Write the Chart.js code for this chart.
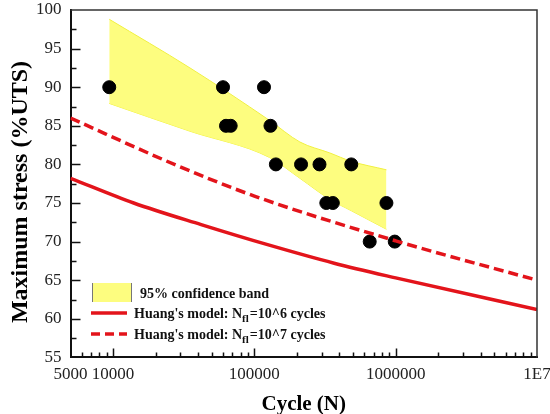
<!DOCTYPE html>
<html>
<head>
<meta charset="utf-8">
<script src="https://cdn.jsdelivr.net/npm/chart.js@4.4.1/dist/chart.umd.min.js"></script>
<style>
    html, body { margin: 0; padding: 0; background: #fff; }
    #wrap { width: 550px; height: 414px; }
</style>
</head>
<body>
<div id="wrap"><canvas id="sn"></canvas></div>
<script>
// Fatigue test results (cycles to failure vs. max stress in %UTS)
const testCycles = [9400, 60000, 63000, 68000, 117000, 130000, 142000, 214000, 289000, 485000, 323000, 359000, 860000, 655000, 985000];
const testStress = [90, 90, 85, 85, 90, 85, 80, 80, 80, 80, 75, 75, 75, 70, 70];

// 95% confidence band edges
const bandCycles = [9400, 35000, 128000, 210000, 340000, 485000, 860000];
const bandUpper = [98.8, 92.5, 85.7, 82.9, 81.5, 80.4, 79.3];
const bandLower = [87.9, 84.3, 80.9, 78.2, 75.5, 74.0, 71.6];

// Huang's model curves
const model6Cycles = [5000, 14000, 42000, 124000, 367000, 1000000, 10000000];
const model6Stress = [78.2, 75.0, 72.2, 69.6, 67.2, 65.3, 61.2];
const model7Cycles = [5000, 28000, 100000, 1000000, 10000000];
const model7Stress = [86.0, 79.9, 75.9, 70.1, 65.0];

// axis ticks
const xTickValues = [5000, 10000, 100000, 1000000, 10000000];
const xTickLabels = ['5000', '10000', '100000', '1000000', '1E7'];

const serif = '"Liberation Serif", "Times New Roman", serif';
const red = '#e3141b';
const bandFill = 'rgba(253, 253, 120, 0.95)';

const pairs = (xs, ys) => xs.map((x, i) => ({ x: x, y: ys[i] }));

// inward ticks on the bottom/left axes, plain frame on top/right
const frameTicks = {
    id: 'frameTicks',
    afterDraw(chart) {
        const { ctx, chartArea: a, scales } = chart;
        const xs = scales.x, ys = scales.y;
        ctx.save();
        ctx.strokeStyle = '#111';
        ctx.lineWidth = 1.5;
        ctx.beginPath();
        for (let k = 3; k <= 7; k++) {
            for (let m = 1; m <= 9; m++) {
                const v = m * Math.pow(10, k);
                if (v <= 5000 || v >= 10000000) continue;
                const px = Math.round(xs.getPixelForValue(v)) + 0.5;
                const len = m === 1 ? 9 : 5;
                ctx.moveTo(px, a.bottom);
                ctx.lineTo(px, a.bottom - len);
            }
        }
        for (let v = 57.5; v < 100; v += 2.5) {
            const py = Math.round(ys.getPixelForValue(v)) + 0.5;
            const len = v % 5 === 0 ? 10 : 6;
            ctx.moveTo(a.left, py);
            ctx.lineTo(a.left + len, py);
        }
        ctx.stroke();
        ctx.strokeStyle = '#333';
        ctx.lineWidth = 1.5;
        ctx.beginPath();
        ctx.moveTo(a.left, a.top);
        ctx.lineTo(a.right, a.top);
        ctx.lineTo(a.right, a.bottom);
        ctx.stroke();

        // y axis title sits a little below the plot centre in the original
        ctx.translate(21, 192);
        ctx.rotate(-Math.PI / 2);
        ctx.font = 'bold 24px ' + serif;
        ctx.fillStyle = '#000';
        ctx.textAlign = 'center';
        ctx.textBaseline = 'middle';
        ctx.fillText('Maximum stress (%UTS)', 0, 0);
        ctx.restore();
    }
};

// legend drawn inside the plot, lower left
const insideLegend = {
    id: 'insideLegend',
    afterDraw(chart) {
        const ctx = chart.ctx;
        ctx.save();
        ctx.fillStyle = bandFill;
        ctx.fillRect(92, 283, 40, 19);
        ctx.strokeStyle = '#777';
        ctx.lineWidth = 1;
        ctx.beginPath();
        ctx.moveTo(92.5, 283); ctx.lineTo(92.5, 302);
        ctx.moveTo(131.5, 283); ctx.lineTo(131.5, 302);
        ctx.stroke();

        ctx.fillStyle = '#111';
        ctx.textBaseline = 'alphabetic';
        ctx.font = 'bold 14px ' + serif;
        ctx.fillText('95% confidence band', 140, 298);

        const rows = [
            { y: 313, dash: [], exp: '6' },
            { y: 334, dash: [9, 5], exp: '7' }
        ];
        rows.forEach(r => {
            ctx.strokeStyle = red;
            ctx.lineWidth = 3.5;
            ctx.setLineDash(r.dash);
            ctx.beginPath();
            ctx.moveTo(91, r.y);
            ctx.lineTo(127, r.y);
            ctx.stroke();
            ctx.setLineDash([]);

            let x = 134;
            const base = r.y + 5;
            ctx.font = 'bold 14px ' + serif;
            const head = "Huang's model: N";
            ctx.fillText(head, x, base);
            x += ctx.measureText(head).width;
            ctx.font = 'bold 11px ' + serif;
            ctx.fillText('fl', x, base + 4);
            x += ctx.measureText('fl').width + 1;
            ctx.font = 'bold 14px ' + serif;
            ctx.fillText('=10^' + r.exp + ' cycles', x, base);
        });
        ctx.restore();
    }
};

Chart.defaults.font.family = serif;

new Chart(document.getElementById('sn'), {
    type: 'line',
    data: {
        datasets: [
            {
                label: 'Test data',
                type: 'scatter',
                data: pairs(testCycles, testStress),
                backgroundColor: '#000',
                borderColor: '#000',
                pointRadius: 6.5,
                order: 2
            },
            {
                label: "Huang's model: Nfl=10^6 cycles",
                data: pairs(model6Cycles, model6Stress),
                borderColor: red,
                borderWidth: 3.5,
                pointRadius: 0,
                cubicInterpolationMode: 'monotone',
                fill: false,
                order: 1
            },
            {
                label: "Huang's model: Nfl=10^7 cycles",
                data: pairs(model7Cycles, model7Stress),
                borderColor: red,
                borderWidth: 3.5,
                borderDash: [10, 5],
                pointRadius: 0,
                cubicInterpolationMode: 'monotone',
                fill: false,
                order: 1
            },
            {
                label: '95% confidence band',
                data: pairs(bandCycles, bandUpper),
                borderColor: '#f0f040',
                borderWidth: 1,
                backgroundColor: bandFill,
                pointRadius: 0,
                cubicInterpolationMode: 'monotone',
                fill: '+1',
                order: 3
            },
            {
                label: 'band lower',
                data: pairs(bandCycles, bandLower),
                borderColor: '#f0f040',
                borderWidth: 1,
                pointRadius: 0,
                cubicInterpolationMode: 'monotone',
                fill: false,
                order: 3
            }
        ]
    },
    options: {
        responsive: true,
        maintainAspectRatio: false,
        animation: false,
        layout: { autoPadding: false, padding: { left: 27, right: 13, top: 10, bottom: -3 } },
        plugins: {
            legend: { display: false },
            tooltip: { enabled: false }
        },
        scales: {
            x: {
                type: 'logarithmic',
                min: 5000,
                max: 10000000,
                afterBuildTicks: (scale) => {
                    scale.ticks = xTickValues.map(v => ({ value: v }));
                },
                afterFit: (scale) => {
                    scale.paddingLeft = 0;
                    scale.paddingRight = 0;
                },
                ticks: {
                    autoSkip: false,
                    maxRotation: 0,
                    padding: 7,
                    color: '#222',
                    font: { size: 17 },
                    callback: (val, i) => xTickLabels[i]
                },
                grid: { display: false, drawTicks: false },
                border: { display: true, color: '#111', width: 2 },
                title: {
                    display: true,
                    text: 'Cycle (N)',
                    color: '#000',
                    font: { size: 21, weight: 'bold' },
                    padding: { top: 0, bottom: 0 }
                }
            },
            y: {
                type: 'linear',
                min: 55,
                max: 100,
                afterFit: (scale) => {
                    scale.paddingTop = 0;
                    scale.paddingBottom = 0;
                },
                ticks: {
                    stepSize: 5,
                    padding: 9,
                    color: '#222',
                    font: { size: 17 }
                },
                grid: { display: false, drawTicks: false },
                border: { display: true, color: '#111', width: 2 },
                title: { display: false }
            }
        }
    },
    plugins: [frameTicks, insideLegend]
});
</script>
</body>
</html>
